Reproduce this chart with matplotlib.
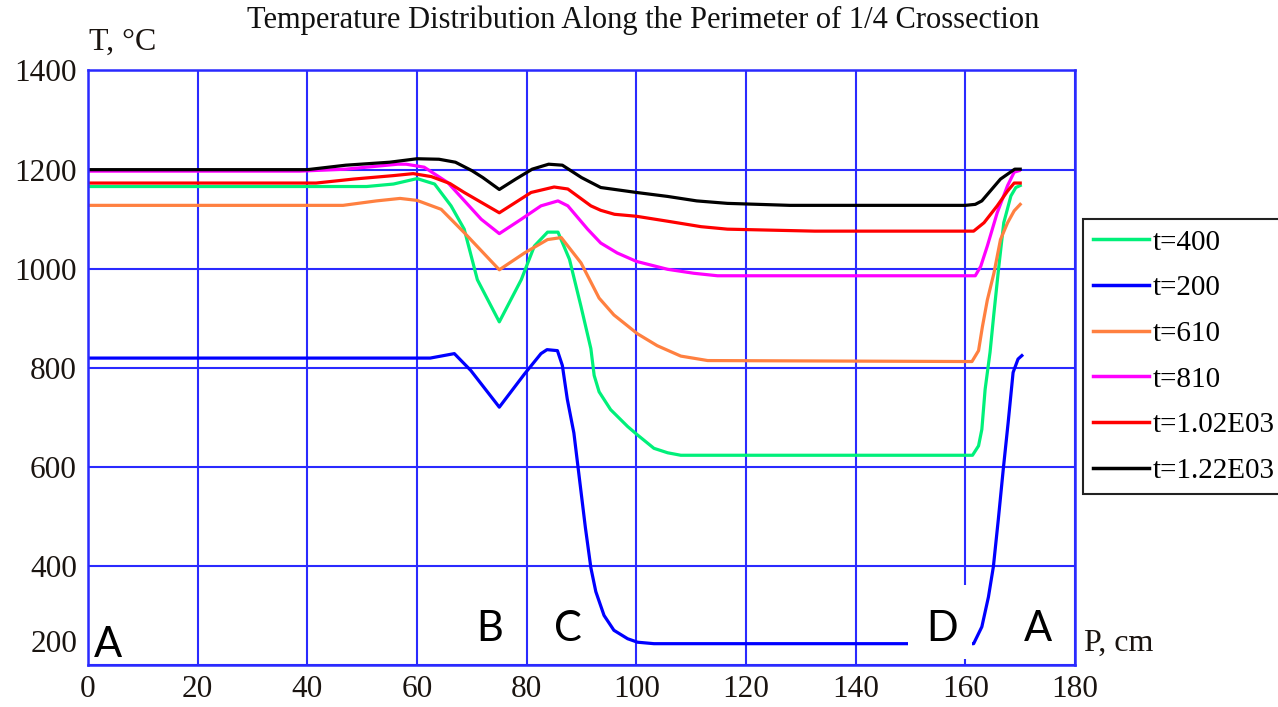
import matplotlib
matplotlib.use("Agg")
import matplotlib.pyplot as plt
from matplotlib.patches import Rectangle

# perimeter coordinate P (cm) and temperature T (C) for each time step
x_400 = [0, 50.8, 55.7, 60, 63.2, 66.2, 68.6, 71, 75, 79, 81.4, 83.8, 85.7, 87.8, 89.9,
         91.7, 92.3, 93.2, 95.3, 98.4, 100.2, 103.2, 105.7, 108.1, 161.3, 162.4, 163,
         163.6, 164.5, 165.2, 166.1, 167, 168.3, 169.2, 170]
t_400 = [1166, 1166, 1171, 1182, 1171, 1127, 1080, 978, 893, 978, 1046, 1074, 1074, 1019, 924,
         839, 785, 752, 716, 682, 665, 638, 629, 624, 624, 643, 676,
         757, 832, 910, 1005, 1093, 1147, 1164, 1168]

x_200 = [0, 62.4, 66.8, 69.8, 75, 79.6, 82.6, 83.7, 85.6, 86.5, 87.4, 88.6, 89.5, 90.7,
         91.7, 92.6, 94.1, 95.9, 98.4, 100.2, 103.2, 161.5, 163, 164.2, 165.1, 166, 166.9,
         167.8, 168.7, 169.6, 170.3]
t_200 = [820, 820, 829, 795, 721, 788, 829, 837, 835, 805, 737, 669, 587, 478,
         397, 349, 301, 271, 254, 247, 244, 244, 278, 338, 399, 494, 595,
         690, 791, 818, 825]

x_610 = [0, 46.5, 52.6, 56.9, 60, 64.4, 68.6, 75, 79.6, 83.8, 86.3, 89.9, 93.2, 95.9, 100.2,
         103.8, 108.1, 113, 161.2, 162.4, 163.1, 164, 165.2, 166.4, 167.7, 168.9, 170]
t_610 = [1128, 1128, 1137, 1142, 1138, 1120, 1073, 998, 1032, 1059, 1063, 1012, 941, 907, 869,
         845, 824, 815, 813, 835, 883, 937, 991, 1059, 1093, 1117, 1130]

x_810 = [0, 38.6, 47, 56.5, 58, 61.3, 65.6, 71.7, 75, 79, 82.6, 85.7, 87.5, 91.1, 93.5, 96.5,
         100, 105.7, 110.5, 114.8, 161.8, 162.8, 164, 165.8, 167.7, 168.9, 169.8]
t_810 = [1197, 1197, 1201, 1211, 1211, 1205, 1174, 1100, 1071, 1100, 1127, 1137, 1127, 1080, 1052, 1032,
         1015, 999, 991, 986, 986, 1005, 1046, 1113, 1168, 1195, 1198]

x_1020 = [0, 41.6, 48.4, 55.7, 59.3, 62.6, 66, 68.6, 75, 80.8, 85, 87.5, 91.7, 93.5, 96, 100,
          105.7, 111.8, 116.6, 132.5, 161.5, 163.4, 165.8, 167.7, 168.9, 170]
t_1020 = [1173, 1173, 1181, 1188, 1192, 1186, 1172, 1154, 1113, 1154, 1165, 1161, 1127, 1118, 1110, 1106,
          1096, 1085, 1080, 1076, 1076, 1093, 1127, 1157, 1173, 1173]

x_1220 = [0, 40, 47, 55, 60, 64, 67, 70, 72, 75, 78, 81, 84, 86.5, 90, 93.5, 100, 105.7,
          111, 116.6, 128, 160, 161.8, 163, 166.4, 169, 170]
t_1220 = [1200, 1200, 1209, 1215, 1222, 1221, 1215, 1198, 1184, 1160, 1181, 1201, 1211, 1209, 1184, 1164, 1154, 1146,
          1137, 1132, 1128, 1128, 1130, 1137, 1181, 1201, 1201]

labels = ["t=400", "t=200", "t=610", "t=810", "t=1.02E03", "t=1.22E03"]
colors = ["#00f07a", "#0000ff", "#ff8040", "#ff00ff", "#ff0000", "#000000"]

# corner labels along the perimeter
point_names = ["A", "B", "C", "D", "A"]
point_x = [3.6, 73.2, 87.6, 155.7, 173.2]
point_y = [217, 249, 249, 249, 249]

serif = "Liberation Serif"
grid_blue = "#2a2aff"

fig = plt.figure(figsize=(12.78, 7.07), dpi=100)
ax = fig.add_axes([0.0689, 0.0587, 0.7723, 0.8416])

series = [(x_400, t_400), (x_200, t_200), (x_610, t_610),
          (x_810, t_810), (x_1020, t_1020), (x_1220, t_1220)]
for (xs, ts), lab, col in zip(series, labels, colors):
    ax.plot(xs, ts, color=col, lw=2.3, label=lab, zorder=2)

ax.set_xlim(0, 180)
ax.set_ylim(200, 1400)
ax.set_xticks(range(0, 181, 20))
ax.set_yticks(range(200, 1401, 200))
ax.set_yticklabels([""] + [str(v) for v in range(400, 1401, 200)])
ax.grid(True, color=grid_blue, lw=1.5, zorder=0)
ax.set_axisbelow(True)
for s in ax.spines.values():
    s.set_color(grid_blue)
    s.set_linewidth(1.8)
ax.tick_params(length=0, labelsize=22.5)
ax.tick_params(axis="y", pad=8)
ax.tick_params(axis="x", pad=7)
for t in ax.get_xticklabels() + ax.get_yticklabels():
    t.set_fontfamily(serif)
    t.set_color("#1a1410")

# the 200 label sits a bit above its grid line in the original
fig.text(77 / 1278, 1 - 645 / 707, "200", ha="right", va="center",
         fontsize=22.5, family=serif, color="#1a1410")

# white patch behind the D label
ax.add_patch(Rectangle((149.5, 213), 11.7, 150, facecolor="white",
                       edgecolor="none", zorder=3))
for name, px, py in zip(point_names, point_x, point_y):
    ax.text(px, py, name, ha="center", va="baseline", fontsize=30,
            family="Lato", color="black", zorder=4)

fig.text(643 / 1278, 1 - 28 / 707,
         "Temperature Distribution Along the Perimeter of 1/4 Crossection",
         ha="center", va="baseline", fontsize=22, family=serif, color="#111111")
fig.text(89 / 1278, 1 - 42 / 707, "T, °C", ha="left", va="center",
         fontsize=23, family=serif, color="#1a1410")
fig.text(1084 / 1278, 1 - 643 / 707, "P, cm", ha="left", va="center",
         fontsize=23, family=serif, color="#1a1410")

leg = ax.legend(loc="upper left", bbox_to_anchor=(1083 / 1278, 1 - 219 / 707),
                bbox_transform=fig.transFigure, prop={"family": serif, "size": 21},
                frameon=True, fancybox=False, framealpha=1, borderpad=0.35,
                labelspacing=0.66, handlelength=1.9, handletextpad=0.15,
                borderaxespad=0)
leg.get_frame().set_edgecolor("#222222")
leg.get_frame().set_linewidth(1.5)
for ln in leg.get_lines():
    ln.set_linewidth(2.5)

fig.savefig("out.png", dpi=100)
